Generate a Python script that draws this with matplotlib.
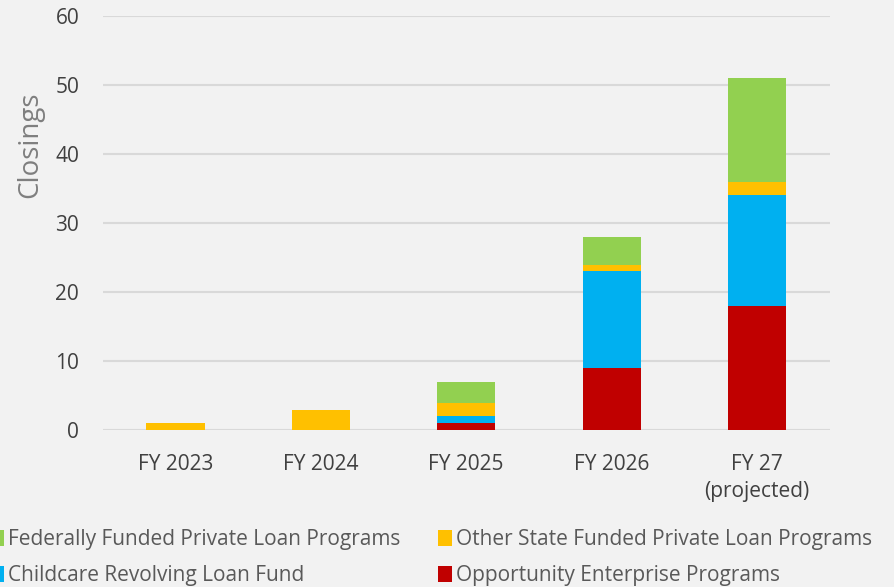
import matplotlib.pyplot as plt
import numpy as np

plt.rcParams["font.family"] = ["Open Sans", "DejaVu Sans"]

categories = ["FY 2023", "FY 2024", "FY 2025", "FY 2026", "FY 27\n(projected)"]
opportunity = [0, 0, 1, 9, 18]
childcare = [0, 0, 1, 14, 16]
other_state = [1, 3, 2, 1, 2]
federal = [0, 0, 3, 4, 15]

series = [
    ("Opportunity Enterprise Programs", opportunity, "#C00000"),
    ("Childcare Revolving Loan Fund", childcare, "#00B0F0"),
    ("Other State Funded Private Loan Programs", other_state, "#FFC000"),
    ("Federally Funded Private Loan Programs", federal, "#92D050"),
]

bg = "#F2F2F2"
fig = plt.figure(figsize=(8.94, 5.87), dpi=100, facecolor=bg)
ax = fig.add_axes([0.115, 0.267, 0.813, 0.706], facecolor=bg)

x = np.arange(len(categories))
bottom = np.zeros(len(categories))
handles = {}
for label, vals, color in series:
    vals = np.array(vals, dtype=float)
    bars = ax.bar(x, vals, width=0.4, bottom=bottom, color=color,
                  linewidth=0, label=label, zorder=3)
    handles[label] = bars
    bottom += vals

ax.set_xlim(-0.5, len(categories) - 0.5)
ax.set_ylim(0, 60)
ax.set_yticks(range(0, 61, 10))
ax.set_xticks(x)
ax.set_xticklabels(categories, linespacing=1.4)
ax.yaxis.grid(True, color="#D9D9D9", linewidth=1.5, zorder=0)
ax.set_axisbelow(True)
for s in ax.spines.values():
    s.set_visible(False)
ax.tick_params(length=0, labelsize=15, colors="#404040")
ax.tick_params(axis="x", pad=17)
ax.tick_params(axis="y", pad=17)
ax.set_ylabel("Closings", fontsize=20, color="#7F7F7F")
ax.yaxis.set_label_coords(-0.081, 0.69)

order = [
    "Federally Funded Private Loan Programs",
    "Childcare Revolving Loan Fund",
    "Other State Funded Private Loan Programs",
    "Opportunity Enterprise Programs",
]
fig.legend([handles[k] for k in order], order, ncol=2, loc="upper left",
           bbox_to_anchor=(-0.0106, 0.099), frameon=False, fontsize=15,
           labelcolor="#595959", handlelength=0.66, handleheight=0.8,
           handletextpad=0.2, columnspacing=1.8, labelspacing=0.72,
           borderaxespad=0, borderpad=0)

fig.savefig("out.png", dpi=100, facecolor=bg)
